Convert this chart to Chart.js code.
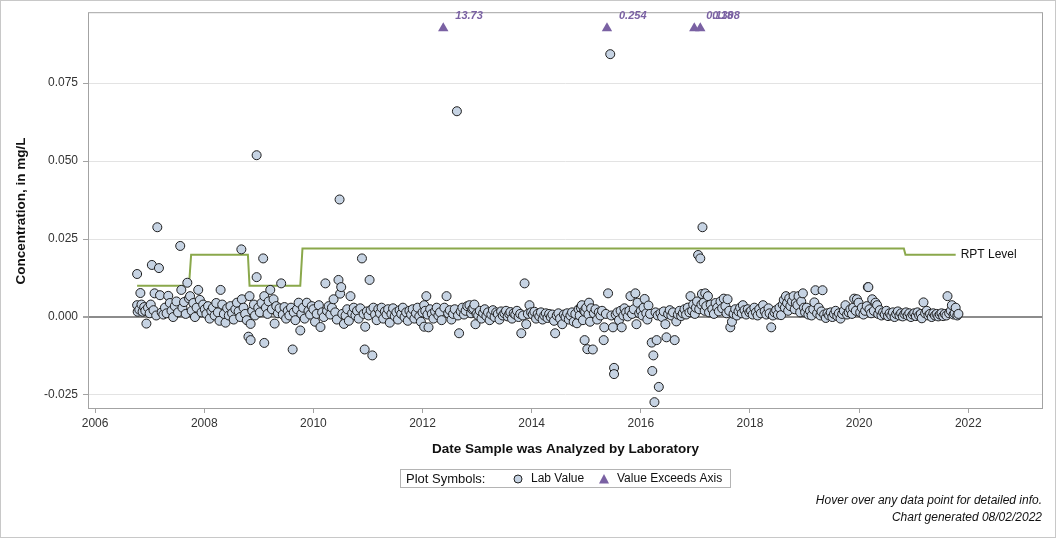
<!DOCTYPE html>
<html>
<head>
<meta charset="utf-8">
<script src="https://cdn.jsdelivr.net/npm/chart.js@4.4.0/dist/chart.umd.min.js"></script>
<style>
  html, body { margin: 0; padding: 0; background: #fff; }
  #wrap { width: 1056px; height: 538px; }
</style>
</head>
<body>
<div id="wrap"><canvas id="chart" width="1056" height="538"></canvas></div>
<script>
// Lab values, [decimal year, concentration mg/L]
const lab2006 = [[2006.77,0.0138],[2006.77,0.0038],[2006.78,0.0017],[2006.81,0.0024],[2006.83,0.0077],[2006.85,0.0040],
  [2006.87,0.0017],[2006.90,0.0032],[2006.92,0.0020],[2006.94,-0.0021],[2006.97,0.0030]];
const lab2007 = [[2007.00,0.0012],[2007.02,0.0040],[2007.04,0.0167],[2007.07,0.0022],[2007.09,0.0076],[2007.12,0.0005],
  [2007.14,0.0288],[2007.17,0.0157],[2007.19,0.0070],[2007.22,0.0015],[2007.25,0.0008],[2007.28,0.0030],[2007.31,0.0012],
  [2007.34,0.0068],[2007.37,0.0045],[2007.40,0.0020],[2007.43,0.0000],[2007.46,0.0035],[2007.49,0.0050],[2007.52,0.0015],
  [2007.56,0.0228],[2007.58,0.0087],[2007.60,0.0030],[2007.63,0.0048],[2007.66,0.0010],[2007.69,0.0110],[2007.72,0.0060],
  [2007.74,0.0067],[2007.77,0.0020],[2007.80,0.0045],[2007.83,0.0000],[2007.86,0.0030],[2007.89,0.0087],[2007.92,0.0055],
  [2007.95,0.0015],[2007.98,0.0040]];
const lab2008 = [[2008.01,0.0025],[2008.04,0.0010],[2008.07,0.0035],[2008.10,-0.0005],[2008.13,0.0020],[2008.16,0.0030],
  [2008.19,0.0005],[2008.22,0.0045],[2008.25,0.0015],[2008.28,-0.0012],[2008.30,0.0087],[2008.33,0.0040],[2008.36,0.0010],
  [2008.39,-0.0018],[2008.42,0.0028],[2008.45,0.0005],[2008.48,0.0035],[2008.51,0.0012],[2008.54,-0.0008],[2008.57,0.0025],
  [2008.60,0.0046],[2008.63,0.0018],[2008.66,0.0000],[2008.68,0.0217],[2008.69,0.0057],[2008.72,0.0030],[2008.75,0.0010],
  [2008.78,-0.0010],[2008.81,-0.0063],[2008.83,0.0067],[2008.85,-0.0074],[2008.85,-0.0022],[2008.88,0.0020],[2008.91,0.0040],
  [2008.93,0.0005],[2008.96,0.0519],[2008.96,0.0128],[2008.99,0.0030]];
const lab2009 = [[2009.02,0.0015],[2009.05,0.0045],[2009.08,0.0188],[2009.10,0.0067],[2009.10,-0.0083],[2009.13,0.0030],
  [2009.16,0.0010],[2009.18,0.0050],[2009.21,0.0087],[2009.24,0.0025],[2009.27,0.0057],[2009.29,-0.0021],[2009.32,0.0035],
  [2009.35,0.0012],[2009.38,0.0028],[2009.41,0.0108],[2009.44,0.0008],[2009.47,0.0032],[2009.50,-0.0005],[2009.53,0.0020],
  [2009.56,0.0005],[2009.59,0.0030],[2009.62,-0.0104],[2009.64,0.0015],[2009.67,-0.0010],[2009.70,0.0025],[2009.73,0.0046],
  [2009.76,-0.0043],[2009.78,0.0010],[2009.81,0.0030],[2009.84,-0.0005],[2009.88,0.0046],[2009.91,0.0020],[2009.94,0.0008],
  [2009.97,0.0035]];
const lab2010 = [[2010.00,0.0025],[2010.03,-0.0015],[2010.06,0.0010],[2010.10,0.0038],[2010.13,-0.0032],[2010.16,0.0015],
  [2010.19,0.0000],[2010.22,0.0108],[2010.25,0.0020],[2010.28,0.0035],[2010.31,0.0008],[2010.34,0.0030],[2010.37,0.0057],
  [2010.40,0.0015],[2010.43,-0.0008],[2010.46,0.0119],[2010.48,0.0377],[2010.49,0.0075],[2010.51,0.0096],[2010.53,0.0010],
  [2010.56,-0.0022],[2010.59,0.0005],[2010.62,0.0025],[2010.65,-0.0012],[2010.68,0.0067],[2010.71,0.0012],[2010.74,0.0030],
  [2010.77,0.0005],[2010.80,0.0020],[2010.83,-0.0005],[2010.86,0.0028],[2010.89,0.0188],[2010.92,0.0010],[2010.94,-0.0104],
  [2010.95,-0.0031],[2010.98,0.0018]];
const lab2011 = [[2011.01,0.0005],[2011.03,0.0119],[2011.05,0.0022],[2011.08,-0.0123],[2011.10,0.0030],[2011.13,0.0008],
  [2011.16,-0.0010],[2011.19,0.0025],[2011.22,0.0012],[2011.25,0.0030],[2011.28,-0.0005],[2011.31,0.0018],[2011.34,0.0008],
  [2011.37,0.0025],[2011.40,-0.0018],[2011.43,0.0010],[2011.46,0.0028],[2011.49,0.0003],[2011.52,0.0015],[2011.55,-0.0008],
  [2011.58,0.0022],[2011.61,0.0010],[2011.64,0.0030],[2011.67,0.0000],[2011.70,0.0015],[2011.73,-0.0012],[2011.76,0.0020],
  [2011.79,0.0008],[2011.82,0.0025],[2011.85,-0.0005],[2011.88,0.0012],[2011.91,0.0030],[2011.94,0.0002],[2011.97,-0.0015]];
const lab2012 = [[2012.00,0.0015],[2012.03,0.0038],[2012.03,-0.0031],[2012.05,0.0020],[2012.07,0.0067],[2012.09,0.0008],
  [2012.11,-0.0033],[2012.14,0.0025],[2012.17,0.0010],[2012.20,-0.0005],[2012.23,0.0018],[2012.26,0.0030],[2012.29,0.0005],
  [2012.32,0.0015],[2012.35,-0.0010],[2012.40,0.0030],[2012.44,0.0067],[2012.47,0.0012],[2012.50,0.0022],[2012.53,-0.0008],
  [2012.56,0.0010],[2012.59,0.0025],[2012.63,0.0660],[2012.65,0.0005],[2012.67,-0.0052],[2012.70,0.0018],[2012.73,0.0030],
  [2012.76,0.0008],[2012.79,0.0020],[2012.82,0.0035],[2012.86,0.0038],[2012.89,0.0012],[2012.91,0.0025],[2012.93,0.0028],
  [2012.95,0.0040],[2012.97,-0.0023],[2012.99,0.0010]];
const lab2013 = [[2013.02,0.0005],[2013.05,0.0020],[2013.08,-0.0005],[2013.11,0.0012],[2013.14,0.0025],[2013.17,0.0003],
  [2013.20,0.0015],[2013.23,-0.0010],[2013.26,0.0008],[2013.29,0.0022],[2013.32,0.0000],[2013.35,0.0015],[2013.38,0.0010],
  [2013.41,-0.0008],[2013.44,0.0018],[2013.47,0.0005],[2013.50,0.0012],[2013.53,0.0020],[2013.56,0.0002],[2013.59,0.0010],
  [2013.61,0.0016],[2013.64,-0.0005],[2013.67,0.0012],[2013.70,0.0008],[2013.73,0.0020],[2013.76,0.0000],[2013.79,0.0010],
  [2013.81,-0.0052],[2013.84,0.0005],[2013.87,0.0108],[2013.90,-0.0023],[2013.93,0.0010],[2013.96,0.0038],[2013.99,0.0015]];
const lab2014 = [[2014.02,0.0008],[2014.05,0.0017],[2014.08,-0.0005],[2014.11,0.0010],[2014.14,0.0002],[2014.17,0.0015],
  [2014.20,-0.0008],[2014.23,0.0005],[2014.26,0.0012],[2014.29,-0.0003],[2014.32,0.0010],[2014.35,0.0000],[2014.38,0.0008],
  [2014.41,-0.0012],[2014.43,-0.0052],[2014.46,0.0005],[2014.49,0.0012],[2014.52,-0.0005],[2014.56,-0.0023],[2014.59,0.0008],
  [2014.62,0.0000],[2014.65,0.0012],[2014.68,-0.0008],[2014.71,0.0005],[2014.74,0.0015],[2014.77,-0.0015],[2014.80,0.0010],
  [2014.83,-0.0020],[2014.86,0.0025],[2014.88,0.0005],[2014.90,0.0030],[2014.92,0.0038],[2014.94,-0.0010],[2014.96,0.0020],
  [2014.97,-0.0074],[2014.98,0.0017]];
const lab2015 = [[2015.00,0.0030],[2015.02,-0.0103],[2015.04,0.0008],[2015.05,0.0046],[2015.07,-0.0015],[2015.09,0.0028],
  [2015.12,-0.0104],[2015.14,0.0012],[2015.17,0.0025],[2015.20,-0.0008],[2015.23,0.0015],[2015.26,0.0005],[2015.29,0.0020],
  [2015.32,-0.0074],[2015.33,-0.0033],[2015.36,0.0010],[2015.40,0.0076],[2015.44,0.0843],[2015.46,0.0005],[2015.49,-0.0033],
  [2015.51,-0.0163],[2015.51,-0.0183],[2015.54,0.0008],[2015.57,0.0015],[2015.60,-0.0010],[2015.63,0.0020],[2015.65,-0.0033],
  [2015.68,0.0005],[2015.70,0.0028],[2015.73,0.0015],[2015.76,0.0002],[2015.79,0.0020],[2015.81,0.0067],[2015.84,0.0010],
  [2015.87,0.0025],[2015.90,0.0076],[2015.92,-0.0023],[2015.94,0.0046],[2015.97,0.0012]];
const lab2016 = [[2016.00,0.0020],[2016.03,0.0005],[2016.05,0.0030],[2016.07,0.0058],[2016.10,0.0012],[2016.12,-0.0008],
  [2016.14,0.0037],[2016.17,0.0010],[2016.20,-0.0082],[2016.21,-0.0173],[2016.23,-0.0123],[2016.25,-0.0273],[2016.27,0.0015],
  [2016.29,-0.0074],[2016.31,0.0005],[2016.33,-0.0224],[2016.36,0.0012],[2016.39,0.0000],[2016.42,0.0018],[2016.45,-0.0023],
  [2016.47,-0.0065],[2016.50,0.0010],[2016.53,0.0022],[2016.56,0.0005],[2016.59,0.0015],[2016.62,-0.0074],[2016.65,-0.0014],
  [2016.68,0.0008],[2016.71,0.0020],[2016.74,0.0003],[2016.77,0.0012],[2016.80,0.0025],[2016.83,0.0008],[2016.86,0.0030],
  [2016.89,0.0015],[2016.91,0.0067],[2016.94,0.0020],[2016.96,0.0040],[2016.99,0.0010]];
const lab2017 = [[2017.01,0.0030],[2017.03,0.0050],[2017.05,0.0199],[2017.07,0.0025],[2017.09,0.0188],[2017.11,0.0040],
  [2017.12,0.0074],[2017.13,0.0288],[2017.15,0.0046],[2017.17,0.0020],[2017.18,0.0076],[2017.20,0.0035],[2017.23,0.0067],
  [2017.25,0.0015],[2017.28,0.0040],[2017.31,0.0025],[2017.34,0.0010],[2017.37,0.0045],[2017.40,0.0030],[2017.43,0.0018],
  [2017.46,0.0050],[2017.49,0.0028],[2017.52,0.0059],[2017.55,0.0035],[2017.57,0.0012],[2017.59,0.0057],[2017.62,0.0020],
  [2017.64,-0.0033],[2017.67,-0.0015],[2017.70,0.0010],[2017.73,0.0025],[2017.76,0.0005],[2017.79,0.0018],[2017.82,0.0030],
  [2017.85,0.0012],[2017.87,0.0038],[2017.90,0.0022],[2017.93,0.0008],[2017.96,0.0025],[2017.99,0.0015]];
const lab2018 = [[2018.02,0.0020],[2018.05,0.0008],[2018.08,0.0030],[2018.11,0.0015],[2018.14,0.0005],[2018.17,0.0025],
  [2018.20,0.0012],[2018.24,0.0038],[2018.27,0.0018],[2018.30,0.0008],[2018.34,0.0028],[2018.36,0.0012],[2018.39,-0.0033],
  [2018.42,0.0005],[2018.45,0.0015],[2018.48,0.0022],[2018.51,0.0008],[2018.54,0.0030],[2018.57,0.0006],[2018.60,0.0040],
  [2018.62,0.0055],[2018.64,0.0030],[2018.66,0.0067],[2018.68,0.0045],[2018.70,0.0020],[2018.72,0.0060],[2018.74,0.0035],
  [2018.77,0.0050],[2018.80,0.0067],[2018.82,0.0025],[2018.84,0.0045],[2018.87,0.0038],[2018.89,0.0067],[2018.92,0.0015],
  [2018.94,0.0050],[2018.97,0.0076],[2018.99,0.0030]];
const lab2019 = [[2019.01,0.0015],[2019.04,0.0030],[2019.07,0.0008],[2019.10,0.0020],[2019.13,0.0005],[2019.16,0.0025],
  [2019.18,0.0047],[2019.20,0.0086],[2019.23,0.0012],[2019.26,0.0030],[2019.29,0.0005],[2019.31,0.0018],[2019.33,0.0086],
  [2019.36,0.0008],[2019.39,-0.0003],[2019.42,0.0012],[2019.45,0.0005],[2019.48,0.0015],[2019.51,0.0000],[2019.54,0.0010],
  [2019.57,0.0020],[2019.60,0.0003],[2019.63,0.0012],[2019.66,-0.0005],[2019.69,0.0010],[2019.72,0.0020],[2019.75,0.0038],
  [2019.78,0.0008],[2019.81,0.0015],[2019.84,0.0025],[2019.87,0.0010],[2019.89,0.0030],[2019.91,0.0059],[2019.94,0.0020],
  [2019.96,0.0057],[2019.99,0.0046]];
const lab2020 = [[2020.02,0.0015],[2020.05,0.0030],[2020.08,0.0008],[2020.11,0.0020],[2020.14,0.0035],[2020.16,0.0096],
  [2020.17,0.0096],[2020.19,0.0025],[2020.22,0.0012],[2020.24,0.0057],[2020.27,0.0020],[2020.30,0.0046],[2020.33,0.0038],
  [2020.35,0.0010],[2020.38,0.0022],[2020.41,0.0005],[2020.44,0.0015],[2020.47,0.0008],[2020.50,0.0020],[2020.53,0.0003],
  [2020.56,0.0012],[2020.59,0.0005],[2020.62,0.0015],[2020.65,0.0000],[2020.68,0.0010],[2020.71,0.0018],[2020.74,0.0005],
  [2020.77,0.0012],[2020.80,0.0002],[2020.83,0.0010],[2020.86,0.0015],[2020.89,0.0005],[2020.92,0.0012],[2020.95,0.0000],
  [2020.98,0.0008]];
const lab2021 = [[2021.01,0.0012],[2021.04,0.0003],[2021.07,0.0015],[2021.10,0.0005],[2021.13,0.0010],[2021.15,-0.0004],
  [2021.18,0.0047],[2021.21,0.0012],[2021.24,0.0020],[2021.27,0.0005],[2021.30,0.0010],[2021.33,0.0000],[2021.36,0.0012],
  [2021.39,0.0005],[2021.42,0.0010],[2021.45,0.0002],[2021.48,0.0008],[2021.51,0.0012],[2021.54,0.0003],[2021.57,0.0010],
  [2021.60,0.0005],[2021.62,0.0067],[2021.65,0.0012],[2021.68,0.0020],[2021.70,0.0038],[2021.73,0.0008],[2021.75,0.0012],
  [2021.77,0.0030],[2021.80,0.0005],[2021.82,0.0010]];

// Values that are off the top of the axis: drawn at the ceiling with their real value written beside
const exceedDates = [2012.38, 2015.38, 2016.98, 2017.09];
const exceedLabels = ['13.73', '0.254', '0.118', '0.308'];
const exceedPlotAt = 0.0926;

// Reporting level step line
const rptDates  = [2006.77, 2007.72, 2007.76, 2008.80, 2008.83, 2009.76, 2009.80, 2020.82, 2020.85, 2021.77];
const rptValues = [0.010, 0.010, 0.020, 0.020, 0.010, 0.010, 0.022, 0.022, 0.020, 0.020];

const yTicks = [-0.025, 0, 0.025, 0.050, 0.075];
const xTicks = [2006, 2008, 2010, 2012, 2014, 2016, 2018, 2020, 2022];

const labPoints = [].concat(lab2006, lab2007, lab2008, lab2009, lab2010, lab2011, lab2012, lab2013,
  lab2014, lab2015, lab2016, lab2017, lab2018, lab2019, lab2020, lab2021);

const FONT = '"Liberation Sans", Arial, sans-serif';
const PURPLE = '#7a61a3';
const CIRCLE_FILL = '#c6d3e3';

const decor = {
  id: 'decor',
  beforeDraw(chart) {
    const ctx = chart.ctx;
    ctx.save();
    ctx.fillStyle = '#fff';
    ctx.fillRect(0, 0, chart.width, chart.height);
    ctx.restore();
  },
  afterDraw(chart) {
    const ctx = chart.ctx;
    const a = chart.chartArea;
    const xs = chart.scales.x, ys = chart.scales.y;
    ctx.save();

    // plot frame + outer border
    ctx.strokeStyle = '#a3a3a3';
    ctx.lineWidth = 1;
    ctx.strokeRect(a.left + 0.5, a.top + 0.5, a.right - a.left - 1, a.bottom - a.top);
    ctx.strokeStyle = '#c8c8c8';
    ctx.strokeRect(0.5, 0.5, chart.width - 1, chart.height - 1);

    // exceed labels
    ctx.fillStyle = PURPLE;
    ctx.font = 'italic bold 11px ' + FONT;
    ctx.textAlign = 'left';
    ctx.textBaseline = 'middle';
    exceedDates.forEach((d, i) => {
      ctx.fillText(exceedLabels[i], xs.getPixelForValue(d) + 12, ys.getPixelForValue(exceedPlotAt) - 12);
    });

    // RPT label
    ctx.fillStyle = '#111';
    ctx.font = '12px ' + FONT;
    const lastI = rptDates.length - 1;
    ctx.fillText('RPT Level', xs.getPixelForValue(rptDates[lastI]) + 5, ys.getPixelForValue(rptValues[lastI]));

    // axis titles
    ctx.font = 'bold 13.5px ' + FONT;
    ctx.fillStyle = '#111';
    ctx.textAlign = 'center';
    ctx.fillText('Date Sample was Analyzed by Laboratory', (a.left + a.right) / 2, 449);
    ctx.save();
    ctx.translate(21, (a.top + a.bottom) / 2 + 1);
    ctx.rotate(-Math.PI / 2);
    ctx.fillText('Concentration, in mg/L', 0, 0);
    ctx.restore();

    // legend box
    ctx.strokeStyle = '#b4b4b4';
    ctx.strokeRect(400.5, 469.5, 330, 18);
    ctx.font = '13px ' + FONT;
    ctx.textAlign = 'left';
    ctx.fillStyle = '#111';
    ctx.fillText('Plot Symbols:', 406, 479);
    ctx.font = '12px ' + FONT;
    ctx.beginPath();
    ctx.arc(518, 479, 4, 0, Math.PI * 2);
    ctx.fillStyle = CIRCLE_FILL;
    ctx.fill();
    ctx.strokeStyle = '#222';
    ctx.stroke();
    ctx.fillStyle = '#111';
    ctx.fillText('Lab Value', 531, 479);
    ctx.beginPath();
    ctx.moveTo(604, 474);
    ctx.lineTo(609, 483.5);
    ctx.lineTo(599, 483.5);
    ctx.closePath();
    ctx.fillStyle = PURPLE;
    ctx.fill();
    ctx.fillStyle = '#111';
    ctx.fillText('Value Exceeds Axis', 617, 479);

    // footer notes
    ctx.font = 'italic 12px ' + FONT;
    ctx.textAlign = 'right';
    ctx.fillText('Hover over any data point for detailed info.', 1042, 501);
    ctx.fillText('Chart generated 08/02/2022', 1042, 518);
    ctx.restore();
  }
};

new Chart(document.getElementById('chart').getContext('2d'), {
  type: 'scatter',
  data: {
    datasets: [
      {
        label: 'Lab Value',
        data: labPoints.map(p => ({ x: p[0], y: p[1] })),
        pointStyle: 'circle',
        pointRadius: 4.5,
        pointBorderWidth: 1,
        pointBackgroundColor: CIRCLE_FILL,
        pointBorderColor: '#1e1e1e'
      },
      {
        label: 'Value Exceeds Axis',
        data: exceedDates.map(d => ({ x: d, y: exceedPlotAt })),
        pointStyle: 'triangle',
        pointRadius: 6,
        pointBorderWidth: 0,
        pointBackgroundColor: PURPLE,
        pointBorderColor: PURPLE
      },
      {
        label: 'RPT Level',
        type: 'line',
        data: rptDates.map((d, i) => ({ x: d, y: rptValues[i] })),
        borderColor: '#8aa84b',
        borderWidth: 2,
        pointRadius: 0,
        fill: false,
        tension: 0
      }
    ]
  },
  plugins: [decor],
  options: {
    responsive: false,
    animation: false,
    events: [],
    layout: { padding: { left: 0, right: 13, top: 12, bottom: 0 } },
    plugins: { legend: { display: false }, tooltip: { enabled: false } },
    scales: {
      x: {
        type: 'linear',
        min: 2005.87,
        max: 2023.37,
        afterBuildTicks: s => { s.ticks = xTicks.map(v => ({ value: v })); },
        afterFit: s => { s.height = 130; },
        border: { display: false },
        grid: { drawOnChartArea: false, drawTicks: true, tickLength: 5, tickColor: '#a3a3a3' },
        ticks: { padding: 3, color: '#333', font: { family: FONT, size: 12 }, callback: v => String(v) }
      },
      y: {
        type: 'linear',
        min: -0.02917,
        max: 0.09776,
        afterBuildTicks: s => { s.ticks = yTicks.map(v => ({ value: v })); },
        afterFit: s => { s.width = 88; },
        border: { display: false },
        grid: {
          color: c => (c.tick && c.tick.value === 0) ? '#8c8c8c' : '#e3e3e3',
          lineWidth: c => (c.tick && c.tick.value === 0) ? 2 : 1,
          tickLength: 5,
          tickColor: '#a3a3a3'
        },
        ticks: { padding: 5, color: '#333', font: { family: FONT, size: 12 }, callback: v => v.toFixed(3) }
      }
    }
  }
});
</script>
</body>
</html>
